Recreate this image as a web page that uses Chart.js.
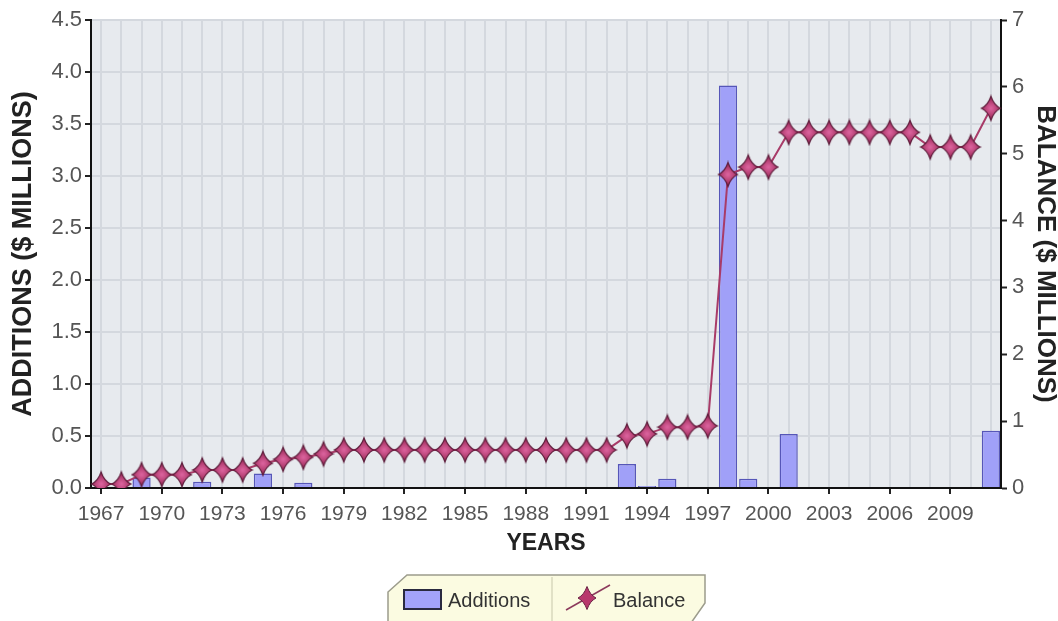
<!DOCTYPE html>
<html>
<head>
<meta charset="utf-8">
<script src="https://cdn.jsdelivr.net/npm/chart.js@4.4.1/dist/chart.umd.min.js"></script>
<style>
  html, body { margin: 0; padding: 0; background: #fff; }
  #wrap { position: relative; width: 1058px; height: 621px; overflow: hidden; }
  #legend { position: absolute; left: 386px; top: 574px; font-family: 'Liberation Sans', Arial, sans-serif; }
</style>
</head>
<body>
<div id="wrap">
  <canvas id="chart" width="1058" height="621"></canvas>
  <svg id="legend" width="322" height="50">
    <polygon points="2,18 21,1 319,1 319,29 305,49 2,49" fill="#fbfbe1" stroke="#9c9c8c" stroke-width="1.5"/>
    <line x1="166" y1="3" x2="166" y2="50" stroke="#d8d8bc" stroke-width="1.5"/>
    <rect x="18" y="16" width="37" height="19" fill="#a3a3fa" stroke="#2a2a40" stroke-width="2"/>
    <text x="62" y="33" font-size="20" fill="#333">Additions</text>
    <line x1="180" y1="36" x2="224" y2="11" stroke="#8c3a5c" stroke-width="1.5"/>
    <path transform="translate(201,24)" d="M0,-11.5 Q3,-3 9,0 Q3,3 0,11.5 Q-3,3 -9,0 Q-3,-3 0,-11.5 Z" fill="#b8386c" stroke="#6a2244" stroke-width="1"/>
    <text x="227" y="33" font-size="20" fill="#333">Balance</text>
  </svg>
</div>
<script>
// Data
const years = ['1967','1968','1969','1970','1971','1972','1973','1974','1975','1976','1977','1978','1979','1980','1981',
  '1982','1983','1984','1985','1986','1987','1988','1989','1990','1991','1992','1993','1994','1995','1996',
  '1997','1998','1999','2000','2001','2002','2003','2004','2005','2006','2007','2008','2009','2010','2011'];
const shownYears = ['1967','1970','1973','1976','1979','1982','1985','1988','1991','1994','1997','2000','2003','2006','2009'];

// Additions ($ millions, left axis)
const additions = [0, 0, 0.1, 0, 0, 0.06, 0, 0, 0.14, 0.01, 0.05, 0, 0, 0, 0,
  0, 0, 0, 0, 0, 0, 0, 0, 0, 0, 0, 0.23, 0.02, 0.09, 0,
  0, 3.87, 0.09, 0, 0.52, 0, 0, 0, 0, 0, 0, 0, 0, 0, 0.55];

// Balance ($ millions, right axis)
const balance = [0.06, 0.06, 0.2, 0.2, 0.2, 0.27, 0.27, 0.27, 0.37, 0.43, 0.46, 0.51, 0.57, 0.57, 0.57,
  0.57, 0.57, 0.57, 0.57, 0.57, 0.57, 0.57, 0.57, 0.57, 0.57, 0.57, 0.78, 0.81, 0.91, 0.91,
  0.93, 4.69, 4.8, 4.8, 5.32, 5.32, 5.32, 5.32, 5.32, 5.32, 5.32, 5.1, 5.1, 5.1, 5.68];

const leftTicks = [0, 0.5, 1, 1.5, 2, 2.5, 3, 3.5, 4, 4.5];
const rightTicks = [0, 1, 2, 3, 4, 5, 6, 7];

const FONT = "'Liberation Sans', Arial, sans-serif";

// 4-point star marker
function makeStar() {
  const c = document.createElement('canvas');
  c.width = 22; c.height = 28;
  const g = c.getContext('2d');
  g.translate(11, 14);
  g.beginPath();
  g.moveTo(0, -12);
  g.quadraticCurveTo(3, -3, 9.5, 0);
  g.quadraticCurveTo(3, 3, 0, 12);
  g.quadraticCurveTo(-3, 3, -9.5, 0);
  g.quadraticCurveTo(-3, -3, 0, -12);
  g.closePath();
  const grad = g.createRadialGradient(0, 0, 1, 0, 0, 10);
  grad.addColorStop(0, '#d8609a');
  grad.addColorStop(1, '#a02c5c');
  g.fillStyle = grad;
  g.fill();
  g.lineWidth = 1.2;
  g.strokeStyle = '#5e1d3b';
  g.stroke();
  return c;
}

// plot area fill
const plotBg = {
  id: 'plotBg',
  beforeDraw(chart) {
    const { ctx, chartArea: a } = chart;
    ctx.save();
    ctx.fillStyle = '#e7eaee';
    ctx.fillRect(a.left, a.top, a.width, a.height);
    ctx.restore();
  }
};

new Chart(document.getElementById('chart'), {
  data: {
    labels: years,
    datasets: [
      {
        type: 'line', label: 'Balance', data: balance, yAxisID: 'y1', order: 0,
        borderColor: '#a83b68', borderWidth: 2, pointStyle: makeStar(), pointRadius: 10, tension: 0
      },
      {
        type: 'bar', label: 'Additions', data: additions, yAxisID: 'y', order: 1,
        backgroundColor: '#a0a0f8', borderColor: '#5656b8', borderWidth: 1.5,
        categoryPercentage: 1, barPercentage: 0.9
      }
    ]
  },
  options: {
    responsive: false,
    animation: false,
    layout: { padding: { top: 20, left: 0, right: 0, bottom: 0 } },
    plugins: { legend: { display: false }, tooltip: { enabled: false } },
    scales: {
      x: {
        offset: true,
        afterFit: s => { s.height = 133; },
        grid: {
          offset: false, color: '#d4d8de', lineWidth: 2, tickLength: 6, tickWidth: 2,
          tickColor: c => shownYears.includes(years[c.index]) ? '#222' : 'rgba(0,0,0,0)'
        },
        border: { color: '#111', width: 2 },
        ticks: {
          autoSkip: false, maxRotation: 0, padding: 8, color: '#555',
          font: { family: FONT, size: 21 },
          callback: (v, i) => shownYears.includes(years[i]) ? years[i] : ''
        },
        title: {
          display: true, text: 'YEARS', color: '#222',
          font: { family: FONT, size: 23, weight: 'bold' }, padding: { top: 0, bottom: 64 }
        }
      },
      y: {
        position: 'left', min: 0, max: 4.5,
        afterFit: s => { s.width = 91; },
        afterBuildTicks: s => { s.ticks = leftTicks.map(v => ({ value: v })); },
        grid: { color: '#d4d8de', lineWidth: 2, tickLength: 6, tickWidth: 2, tickColor: '#222' },
        border: { color: '#111', width: 2 },
        ticks: { padding: 3, color: '#555', font: { family: FONT, size: 22 }, callback: v => v.toFixed(1) },
        title: {
          display: true, text: 'ADDITIONS ($ MILLIONS)', color: '#222',
          font: { family: FONT, size: 27, weight: 'bold' }, padding: { top: 7, bottom: 0 }
        }
      },
      y1: {
        position: 'right', min: 0, max: 7,
        afterFit: s => { s.width = 57; },
        afterBuildTicks: s => { s.ticks = rightTicks.map(v => ({ value: v })); },
        grid: { drawOnChartArea: false, tickLength: 6, tickWidth: 2, tickColor: '#222' },
        border: { color: '#111', width: 2 },
        ticks: { padding: 5, color: '#555', font: { family: FONT, size: 22 } },
        title: {
          display: true, text: 'BALANCE ($ MILLIONS)', color: '#222',
          font: { family: FONT, size: 26, weight: 'bold', lineHeight: 1 }, padding: { top: 0, bottom: 0 }
        }
      }
    }
  },
  plugins: [plotBg]
});
</script>
</body>
</html>
